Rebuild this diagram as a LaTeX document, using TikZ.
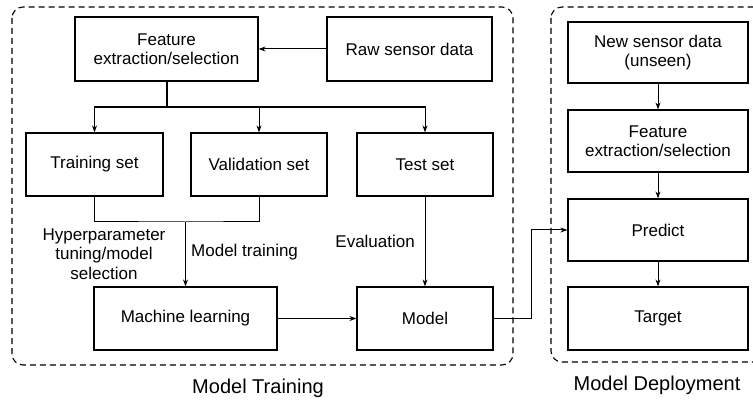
\documentclass[tikz,border=0pt]{standalone}
\usepackage{fontspec}
\setmainfont{Liberation Sans}
\usepackage{tikz}
\usetikzlibrary{arrows.meta, positioning, calc}

\tikzset{
  box/.style={draw, line width=1.2pt, align=center, inner sep=0pt,
    font=\fontsize{17}{19.5}\selectfont},
  lbl/.style={align=center, inner sep=0pt, font=\fontsize{17}{19.5}\selectfont},
  title/.style={inner sep=0pt, font=\fontsize{20}{24}\selectfont},
  group/.style={draw, line width=1.1pt, dash pattern=on 6pt off 4pt, rounded corners=11pt},
  conn/.style={line width=1pt, -{Stealth[length=7pt,width=5pt]}}
}

\begin{document}
\begin{tikzpicture}[x=1pt, y=-1pt]
      \clip (0,0) rectangle (753,401);

      % containers
      \draw[group] (12,7) rectangle (513,365);
      \draw[group] (551,7) rectangle (775,362);
      \node[title] (trainttl) at (258,388) {Model Training};
      \node[title] (deplttl) at (657,385) {Model Deployment};

      % model training
      \node[box, minimum width=183pt, minimum height=64pt] (feat) at (166.5,49) {Feature\\extraction/selection};
      \node[box, minimum width=165pt, minimum height=64pt] (raw) at (409.5,49) {Raw sensor data};
      \node[box, minimum width=137pt, minimum height=63pt] (train) at (94.5,164.5) {Training set};
      \node[box, minimum width=136pt, minimum height=63pt] (valid) at (259,164.5) {Validation set};
      \node[box, minimum width=136pt, minimum height=63pt] (test) at (425,164.5) {Test set};
      \node[box, minimum width=183pt, minimum height=63pt] (ml) at (185.5,318.5) {Machine learning};
      \node[box, minimum width=136pt, minimum height=63pt] (model) at (425,318.5) {Model};

      \draw[conn] (raw.west) -- (feat.east);
      \coordinate (split) at (166.5,107);
      \draw[line width=2pt] (feat.south) -- (split);
      \draw[line width=2pt] (train.north |- split) -- (test.north |- split);
      \draw[conn] (split) -| (train.north);
      \draw[conn] (split) -| (valid.north);
      \draw[conn] (split) -| (test.north);

      \coordinate (merge) at (185.5,222);
      \draw[line width=1pt] (train.south) |- (merge) -| (valid.south);
      \draw[conn] (merge) -- (ml.north);
      \node[lbl] (hyper) at (104,254) {Hyperparameter\\tuning/model\\selection};
      \node[lbl, anchor=west] (mtrain) at (191,252) {Model training};

      \draw[conn] (test.south) -- (model.north);
      \node[lbl, anchor=east] (eval) at (415,241) {Evaluation};
      \draw[conn] (ml.east) -- (model.west);

      % model deployment
      \node[box, minimum width=180pt, minimum height=61pt] (new) at (658,52.5) {New sensor data\\(unseen)};
      \node[box, minimum width=180pt, minimum height=62pt] (feat2) at (658,141) {Feature\\extraction/selection};
      \node[box, minimum width=180pt, minimum height=62pt] (predict) at (658,230) {Predict};
      \node[box, minimum width=180pt, minimum height=63pt] (target) at (658,318.5) {Target};

      \draw[conn] (new.south) -- (feat2.north);
      \draw[conn] (feat2.south) -- (predict.north);
      \draw[conn] (predict.south) -- (target.north);
      \draw[conn] (model.east) -- ++(38,0) |- (predict.west);

    \end{tikzpicture}
\end{document}
